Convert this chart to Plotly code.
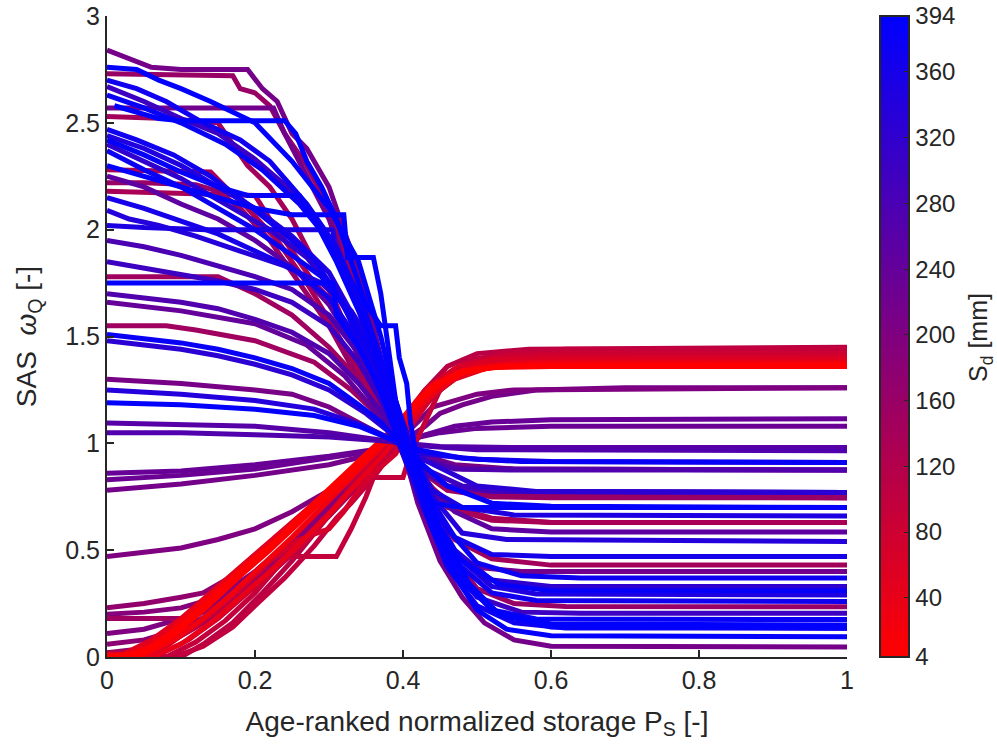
import plotly.graph_objects as go
from plotly.colors import sample_colorscale

# S_d value [mm] of each curve
sd_mm = [
    # rising curves (low S_d)
    4, 15, 25, 40, 60, 80, 95, 110, 120, 10, 30, 70, 50, 100,
    170, 190, 200, 150, 180, 170, 200, 215, 230, 235,
    # nearly flat / falling curves
    260, 270, 210, 340, 390, 150, 380, 330, 240, 270, 300, 150, 390, 280,
    340, 350, 360, 135, 160, 250, 135, 375, 320, 385, 345, 370, 145, 220,
    394, 380, 300, 370, 160, 215, 390, 390,
]
n_rising = 24

# Breakpoints (P_S, omega_Q) of each curve, same order as sd_mm
curves = [
    [(0,0),(0.03,0),(0.05,0.02),(0.08,0.08),(0.12,0.2),(0.16,0.32),(0.2,0.45),(0.24,0.58),(0.28,0.72),(0.32,0.85),(0.36,0.98),(0.39,1.08),(0.42,1.2),(0.45,1.28),(0.48,1.33),(0.52,1.355),(0.6,1.36),(1,1.36)],
    [(0,0),(0.04,0),(0.07,0.05),(0.1,0.13),(0.14,0.25),(0.18,0.38),(0.22,0.5),(0.26,0.63),(0.3,0.77),(0.34,0.9),(0.38,1.02),(0.41,1.15),(0.44,1.26),(0.48,1.33),(0.53,1.36),(0.62,1.37),(1,1.37)],
    [(0,0.01),(0.05,0.01),(0.09,0.08),(0.13,0.18),(0.17,0.3),(0.21,0.43),(0.25,0.56),(0.29,0.7),(0.33,0.84),(0.37,0.98),(0.4,1.1),(0.43,1.22),(0.46,1.3),(0.5,1.35),(0.58,1.37),(1,1.375)],
    [(0,0),(0.06,0),(0.1,0.06),(0.14,0.16),(0.18,0.28),(0.22,0.4),(0.26,0.53),(0.3,0.67),(0.34,0.82),(0.37,0.93),(0.4,1.06),(0.43,1.2),(0.46,1.3),(0.5,1.36),(0.58,1.38),(1,1.38)],
    [(0,0),(0.02,0),(0.05,0.04),(0.09,0.12),(0.13,0.24),(0.17,0.36),(0.21,0.48),(0.25,0.6),(0.29,0.73),(0.33,0.86),(0.37,1.0),(0.4,1.12),(0.43,1.25),(0.47,1.35),(0.52,1.39),(0.6,1.4),(1,1.4)],
    [(0,0),(0.07,0.01),(0.11,0.08),(0.15,0.18),(0.19,0.3),(0.23,0.42),(0.27,0.55),(0.31,0.7),(0.35,0.87),(0.38,1.0),(0.41,1.15),(0.44,1.28),(0.48,1.37),(0.54,1.41),(0.62,1.42),(1,1.42)],
    [(0,0),(0.08,0),(0.12,0.07),(0.16,0.17),(0.2,0.3),(0.23,0.42),(0.245,0.47),(0.31,0.47),(0.33,0.6),(0.35,0.75),(0.36,0.84),(0.4,0.84),(0.41,0.95),(0.43,1.1),(0.45,1.25),(0.48,1.36),(0.53,1.42),(0.62,1.44),(1,1.44)],
    [(0,0),(0.1,0),(0.13,0.06),(0.17,0.16),(0.21,0.3),(0.25,0.45),(0.29,0.62),(0.33,0.8),(0.37,0.97),(0.4,1.1),(0.43,1.25),(0.46,1.36),(0.5,1.42),(0.57,1.44),(1,1.45)],
    [(0,0.02),(0.04,0.02),(0.08,0.06),(0.12,0.14),(0.16,0.25),(0.2,0.38),(0.24,0.52),(0.28,0.66),(0.32,0.8),(0.36,0.93),(0.39,1.03),(0.42,1.16),(0.45,1.3),(0.49,1.38),(0.55,1.42),(1,1.43)],
    [(0,0),(0.03,0.01),(0.06,0.05),(0.1,0.15),(0.14,0.27),(0.18,0.4),(0.22,0.52),(0.26,0.64),(0.3,0.76),(0.34,0.89),(0.38,1.03),(0.41,1.16),(0.44,1.27),(0.48,1.34),(0.54,1.36),(1,1.365)],
    [(0,0),(0.05,0.03),(0.08,0.1),(0.11,0.2),(0.15,0.32),(0.19,0.44),(0.23,0.55),(0.27,0.67),(0.31,0.79),(0.35,0.92),(0.38,1.02),(0.41,1.13),(0.44,1.24),(0.48,1.33),(0.54,1.37),(1,1.37)],
    [(0,0),(0.06,0),(0.1,0.1),(0.14,0.2),(0.18,0.32),(0.22,0.45),(0.26,0.55),(0.3,0.6),(0.32,0.68),(0.34,0.78),(0.36,0.86),(0.39,0.95),(0.41,1.08),(0.44,1.22),(0.47,1.32),(0.52,1.38),(0.6,1.39),(1,1.39)],
    [(0,0),(0.02,0.01),(0.06,0.08),(0.1,0.18),(0.14,0.3),(0.18,0.42),(0.22,0.54),(0.26,0.66),(0.3,0.78),(0.34,0.9),(0.37,0.98),(0.4,1.08),(0.43,1.2),(0.47,1.3),(0.52,1.36),(0.6,1.38),(1,1.385)],
    [(0,0),(0.09,0),(0.13,0.05),(0.17,0.14),(0.2,0.24),(0.24,0.37),(0.28,0.52),(0.31,0.65),(0.33,0.72),(0.36,0.84),(0.39,0.98),(0.42,1.15),(0.45,1.3),(0.49,1.39),(0.56,1.43),(1,1.44)],
    [(0,0.23),(0.05,0.25),(0.1,0.28),(0.13,0.3),(0.17,0.38),(0.2,0.46),(0.24,0.58),(0.28,0.7),(0.33,0.85),(0.37,0.97),(0.41,1.1),(0.44,1.22),(0.48,1.33),(0.53,1.4),(0.6,1.43),(1,1.44)],
    [(0,0.2),(0.05,0.21),(0.1,0.23),(0.15,0.28),(0.2,0.4),(0.25,0.55),(0.3,0.72),(0.35,0.9),(0.39,1.03),(0.43,1.2),(0.47,1.33),(0.52,1.4),(0.6,1.42),(1,1.43)],
    [(0,0.11),(0.05,0.13),(0.1,0.18),(0.15,0.26),(0.2,0.38),(0.25,0.53),(0.3,0.7),(0.35,0.88),(0.39,1.02),(0.43,1.2),(0.47,1.32),(0.52,1.39),(0.6,1.41),(1,1.42)],
    [(0,0.18),(0.11,0.18),(0.15,0.24),(0.2,0.36),(0.25,0.5),(0.3,0.66),(0.35,0.84),(0.39,1.0),(0.43,1.18),(0.47,1.32),(0.52,1.4),(0.6,1.43),(1,1.44)],
    [(0,0.06),(0.05,0.08),(0.1,0.13),(0.15,0.22),(0.2,0.34),(0.25,0.5),(0.3,0.68),(0.35,0.86),(0.39,1.0),(0.43,1.2),(0.47,1.33),(0.52,1.4),(1,1.42)],
    [(0,0.02),(0.05,0.04),(0.1,0.1),(0.15,0.2),(0.2,0.33),(0.25,0.48),(0.3,0.66),(0.35,0.85),(0.39,1.0),(0.42,1.15),(0.46,1.3),(0.5,1.38),(0.58,1.42),(1,1.43)],
    [(0,0.47),(0.05,0.49),(0.1,0.51),(0.15,0.55),(0.2,0.6),(0.25,0.68),(0.3,0.78),(0.35,0.9),(0.39,1.0),(0.42,1.1),(0.44,1.17),(0.47,1.2),(0.5,1.23),(0.55,1.25),(1,1.26)],
    [(0,0.78),(0.1,0.81),(0.2,0.85),(0.3,0.9),(0.36,0.95),(0.4,1.01),(0.43,1.08),(0.45,1.14),(0.48,1.18),(0.52,1.22),(0.58,1.25),(0.7,1.26),(1,1.26)],
    [(0,0.83),(0.1,0.85),(0.2,0.88),(0.3,0.93),(0.37,0.97),(0.41,1.02),(0.45,1.05),(0.5,1.07),(0.6,1.08),(1,1.08)],
    [(0,0.86),(0.1,0.87),(0.2,0.9),(0.3,0.94),(0.36,0.97),(0.4,1.0),(0.43,1.04),(0.47,1.08),(0.52,1.1),(0.6,1.11),(1,1.115)],
    [(0,1.095),(0.1,1.09),(0.2,1.08),(0.3,1.05),(0.36,1.02),(0.4,1.0),(0.45,0.985),(0.55,0.98),(1,0.98)],
    [(0,1.05),(0.1,1.05),(0.2,1.04),(0.3,1.03),(0.38,1.01),(0.42,0.99),(0.5,0.97),(1,0.965)],
    [(0,1.3),(0.1,1.28),(0.2,1.25),(0.25,1.23),(0.3,1.17),(0.35,1.08),(0.39,1.01),(0.42,0.95),(0.47,0.9),(0.55,0.88),(1,0.875)],
    [(0,1.25),(0.1,1.23),(0.2,1.2),(0.28,1.16),(0.34,1.09),(0.39,1.01),(0.43,0.95),(0.5,0.925),(0.6,0.915),(1,0.91)],
    [(0,1.19),(0.1,1.18),(0.2,1.16),(0.28,1.13),(0.34,1.08),(0.39,1.01),(0.42,0.92),(0.46,0.8),(0.52,0.72),(0.6,0.705),(1,0.7)],
    [(0,1.55),(0.08,1.55),(0.12,1.53),(0.2,1.48),(0.28,1.38),(0.33,1.25),(0.37,1.12),(0.39,1.03),(0.42,0.9),(0.46,0.8),(0.52,0.76),(1,0.745)],
    [(0,1.51),(0.05,1.49),(0.1,1.47),(0.15,1.44),(0.2,1.4),(0.25,1.35),(0.3,1.28),(0.34,1.18),(0.37,1.1),(0.39,1.02),(0.42,0.97),(0.48,0.93),(0.56,0.915),(1,0.91)],
    [(0,1.48),(0.05,1.46),(0.1,1.44),(0.15,1.41),(0.2,1.37),(0.25,1.32),(0.3,1.25),(0.35,1.14),(0.39,1.03),(0.43,0.92),(0.5,0.8),(0.58,0.775),(1,0.77)],
    [(0,1.66),(0.1,1.62),(0.2,1.56),(0.27,1.46),(0.32,1.32),(0.36,1.16),(0.39,1.03),(0.42,0.94),(0.48,0.88),(1,0.875)],
    [(0,1.7),(0.05,1.68),(0.1,1.66),(0.15,1.63),(0.2,1.58),(0.25,1.52),(0.3,1.42),(0.34,1.28),(0.37,1.15),(0.39,1.03),(0.42,0.93),(0.47,0.88),(0.55,0.875),(1,0.875)],
    [(0,1.85),(0.05,1.82),(0.1,1.79),(0.15,1.76),(0.2,1.72),(0.25,1.66),(0.3,1.55),(0.34,1.38),(0.37,1.2),(0.4,1.0),(0.43,0.88),(0.48,0.8),(0.55,0.775),(1,0.77)],
    [(0,1.78),(0.1,1.78),(0.15,1.78),(0.2,1.7),(0.25,1.6),(0.3,1.45),(0.34,1.3),(0.37,1.15),(0.39,1.03),(0.42,0.88),(0.46,0.78),(0.52,0.75),(1,0.745)],
    [(0,1.75),(0.1,1.75),(0.17,1.75),(0.305,1.75),(0.31,1.6),(0.34,1.45),(0.37,1.25),(0.39,1.05),(0.41,0.88),(0.44,0.72),(0.48,0.7),(1,0.7)],
    [(0,1.95),(0.05,1.92),(0.1,1.88),(0.15,1.83),(0.2,1.78),(0.25,1.72),(0.3,1.6),(0.34,1.42),(0.37,1.22),(0.39,1.05),(0.42,0.88),(0.46,0.8),(0.52,0.775),(1,0.77)],
    [(0,2.09),(0.03,2.05),(0.07,2.02),(0.12,1.97),(0.18,1.9),(0.24,1.83),(0.29,1.75),(0.33,1.62),(0.36,1.45),(0.39,1.2),(0.41,1.0),(0.44,0.75),(0.48,0.58),(0.54,0.55),(1,0.54)],
    [(0,2.02),(0.05,2.01),(0.135,2.0),(0.305,2.0),(0.31,1.88),(0.33,1.72),(0.35,1.55),(0.37,1.35),(0.39,1.12),(0.41,0.95),(0.44,0.78),(0.48,0.7),(0.55,0.665),(1,0.66)],
    [(0,2.15),(0.05,2.1),(0.1,2.04),(0.15,1.98),(0.2,1.9),(0.25,1.82),(0.3,1.68),(0.34,1.48),(0.37,1.28),(0.4,1.0),(0.43,0.78),(0.47,0.56),(0.52,0.48),(0.6,0.47),(1,0.47)],
    [(0,2.18),(0.1,2.17),(0.2,2.16),(0.22,2.05),(0.25,1.9),(0.28,1.75),(0.3,1.68),(0.33,1.5),(0.36,1.3),(0.39,1.08),(0.42,0.88),(0.46,0.7),(0.52,0.64),(0.6,0.63),(1,0.63)],
    [(0,2.22),(0.05,2.22),(0.12,2.21),(0.15,2.18),(0.18,2.1),(0.22,1.95),(0.26,1.75),(0.3,1.55),(0.34,1.3),(0.38,1.07),(0.42,0.9),(0.46,0.8),(0.52,0.75),(0.6,0.745),(1,0.745)],
    [(0,2.25),(0.05,2.2),(0.1,2.12),(0.15,2.05),(0.2,1.95),(0.26,1.8),(0.3,1.65),(0.34,1.42),(0.37,1.2),(0.4,0.98),(0.43,0.8),(0.47,0.68),(0.52,0.6),(0.6,0.585),(1,0.585)],
    [(0,2.28),(0.1,2.27),(0.14,2.27),(0.16,2.2),(0.19,2.1),(0.23,1.95),(0.27,1.75),(0.31,1.52),(0.35,1.28),(0.39,1.02),(0.43,0.82),(0.47,0.7),(0.52,0.65),(0.6,0.63),(1,0.63)],
    [(0,2.37),(0.05,2.28),(0.1,2.2),(0.15,2.1),(0.2,2.0),(0.25,1.88),(0.29,1.78),(0.33,1.6),(0.36,1.4),(0.39,1.12),(0.42,0.85),(0.46,0.6),(0.5,0.44),(0.56,0.38),(0.64,0.37),(1,0.37)],
    [(0,2.4),(0.05,2.32),(0.1,2.24),(0.16,2.12),(0.22,2.0),(0.27,1.87),(0.31,1.7),(0.35,1.45),(0.38,1.2),(0.4,1.0),(0.43,0.75),(0.47,0.5),(0.52,0.36),(0.6,0.33),(1,0.33)],
    [(0,2.42),(0.05,2.35),(0.1,2.27),(0.15,2.2),(0.19,2.16),(0.26,2.16),(0.28,2.05),(0.31,1.85),(0.34,1.62),(0.37,1.35),(0.39,1.1),(0.41,0.9),(0.44,0.65),(0.48,0.45),(0.53,0.34),(0.6,0.31),(1,0.31)],
    [(0,2.44),(0.05,2.38),(0.1,2.3),(0.15,2.2),(0.2,2.1),(0.25,1.97),(0.3,1.8),(0.34,1.55),(0.37,1.28),(0.4,1.0),(0.43,0.72),(0.47,0.48),(0.52,0.33),(0.58,0.295),(1,0.29)],
    [(0,2.47),(0.04,2.42),(0.09,2.35),(0.14,2.25),(0.19,2.12),(0.24,1.98),(0.28,1.86),(0.32,1.65),(0.35,1.4),(0.38,1.15),(0.4,0.95),(0.43,0.7),(0.47,0.45),(0.52,0.3),(0.58,0.265),(1,0.26)],
    [(0,2.53),(0.08,2.52),(0.15,2.5),(0.17,2.4),(0.19,2.3),(0.22,2.2),(0.25,2.05),(0.28,1.85),(0.31,1.65),(0.34,1.4),(0.37,1.15),(0.4,0.95),(0.43,0.75),(0.47,0.55),(0.52,0.46),(0.6,0.43),(1,0.43)],
    [(0,2.57),(0.225,2.57),(0.24,2.45),(0.27,2.25),(0.3,2.05),(0.33,1.75),(0.36,1.4),(0.39,1.05),(0.42,0.75),(0.46,0.5),(0.5,0.42),(0.56,0.4),(1,0.4)],
    [(0.01,2.58),(0.04,2.55),(0.07,2.52),(0.1,2.51),(0.24,2.51),(0.255,2.45),(0.27,2.32),(0.29,2.2),(0.31,2.05),(0.33,1.85),(0.35,1.65),(0.37,1.55),(0.39,1.55),(0.395,1.4),(0.405,1.28),(0.41,1.1),(0.42,0.9),(0.45,0.6),(0.49,0.34),(0.53,0.2),(0.6,0.155),(1,0.15)],
    [(0,2.63),(0.05,2.57),(0.1,2.5),(0.16,2.4),(0.21,2.28),(0.26,2.12),(0.3,1.95),(0.34,1.7),(0.37,1.4),(0.39,1.15),(0.41,0.95),(0.44,0.62),(0.48,0.36),(0.52,0.22),(0.58,0.178),(1,0.175)],
    [(0,2.67),(0.05,2.6),(0.1,2.52),(0.15,2.45),(0.2,2.33),(0.25,2.18),(0.3,1.95),(0.34,1.65),(0.37,1.35),(0.395,1.02),(0.42,0.75),(0.46,0.45),(0.5,0.28),(0.56,0.21),(0.64,0.205),(1,0.205)],
    [(0,2.7),(0.04,2.66),(0.08,2.6),(0.13,2.5),(0.18,2.42),(0.22,2.32),(0.27,2.12),(0.31,1.92),(0.35,1.6),(0.38,1.25),(0.4,1.0),(0.43,0.68),(0.46,0.42),(0.5,0.24),(0.55,0.16),(0.62,0.136),(1,0.135)],
    [(0,2.73),(0.17,2.72),(0.18,2.66),(0.2,2.64),(0.22,2.58),(0.24,2.45),(0.27,2.3),(0.3,2.1),(0.33,1.8),(0.36,1.45),(0.39,1.08),(0.42,0.8),(0.46,0.5),(0.5,0.32),(0.55,0.25),(0.62,0.236),(1,0.235)],
    [(0,2.84),(0.03,2.8),(0.06,2.76),(0.1,2.75),(0.19,2.75),(0.21,2.66),(0.23,2.6),(0.25,2.45),(0.27,2.38),(0.3,2.2),(0.33,1.9),(0.36,1.55),(0.39,1.1),(0.42,0.72),(0.45,0.45),(0.48,0.28),(0.51,0.16),(0.55,0.08),(0.6,0.05),(1,0.047)],
    [(0,2.3),(0.05,2.25),(0.1,2.2),(0.15,2.15),(0.2,2.1),(0.25,2.07),(0.32,2.07),(0.325,1.87),(0.36,1.87),(0.37,1.7),(0.38,1.45),(0.39,1.2),(0.41,0.95),(0.44,0.62),(0.48,0.35),(0.53,0.2),(0.6,0.14),(1,0.135)],
    [(0,2.76),(0.04,2.75),(0.07,2.7),(0.1,2.66),(0.14,2.6),(0.2,2.5),(0.25,2.32),(0.3,2.1),(0.34,1.85),(0.37,1.5),(0.39,1.2),(0.41,0.95),(0.44,0.6),(0.47,0.38),(0.5,0.22),(0.54,0.13),(0.6,0.1),(1,0.095)],
]

sd_min, sd_max = 4, 394
cb_ticks = [4, 40, 80, 120, 160, 200, 240, 280, 320, 360, 394]
red_blue = [[0, "rgb(255,0,0)"], [1, "rgb(0,0,255)"]]

FONT = "Liberation Sans, Arial, sans-serif"
INK = "#262626"

fig = go.Figure()

# rising curves: purple first, reddest on top; then falling curves: bluest on top
rising = sorted(range(n_rising), key=lambda i: -sd_mm[i])
falling = sorted(range(n_rising, len(sd_mm)), key=lambda i: sd_mm[i])
for i in rising + falling:
    frac = (sd_mm[i] - sd_min) / (sd_max - sd_min)
    color = sample_colorscale(red_blue, [frac])[0]
    xs = [p[0] for p in curves[i]]
    ys = [p[1] for p in curves[i]]
    fig.add_trace(go.Scatter(
        x=xs, y=ys, mode="lines",
        line=dict(color=color, width=5),
        hoverinfo="skip", showlegend=False,
    ))

# colour scale for S_d
fig.add_trace(go.Scatter(
    x=[-1], y=[-1], mode="markers", showlegend=False, hoverinfo="skip",
    marker=dict(
        color=[sd_min], cmin=sd_min, cmax=sd_max, colorscale=red_blue,
        showscale=True,
        colorbar=dict(
            x=1.0446, xanchor="left", y=0.5, yanchor="middle",
            len=1, lenmode="fraction", thickness=29, ypad=0, xpad=0,
            outlinewidth=2, outlinecolor=INK,
            tickvals=cb_ticks, ticks="inside", ticklen=6, tickcolor=INK,
            tickfont=dict(family=FONT, size=24, color=INK),
        ),
    ),
))

fig.add_annotation(
    text="S<sub>d</sub> [mm]", textangle=-90, showarrow=False,
    xref="paper", yref="paper", x=1.18, y=0.498, xanchor="center", yanchor="middle",
    font=dict(family=FONT, size=25, color=INK),
)

axis_common = dict(
    showgrid=False, zeroline=False, showline=True, linecolor=INK, linewidth=2,
    ticks="inside", ticklen=7, tickwidth=2, tickcolor=INK,
    tickfont=dict(family=FONT, size=25, color=INK),
    mirror=False, automargin=False,
)

fig.update_layout(
    width=997, height=748,
    margin=dict(l=107, r=150, t=16, b=91),
    paper_bgcolor="white", plot_bgcolor="white",
    xaxis=dict(
        range=[0, 1], tickvals=[0, 0.2, 0.4, 0.6, 0.8, 1],
        ticktext=["0", "0.2", "0.4", "0.6", "0.8", "1"],
        title=dict(text="Age-ranked normalized storage P<sub>S</sub> [-]",
                   font=dict(family=FONT, size=28, color=INK), standoff=18),
        **axis_common,
    ),
    yaxis=dict(
        range=[0, 3], tickvals=[0, 0.5, 1, 1.5, 2, 2.5, 3],
        ticktext=["0", "0.5", "1", "1.5", "2", "2.5", "3"],
        title=dict(text="SAS  <i>ω</i><sub>Q</sub> [-]",
                   font=dict(family=FONT, size=28, color=INK), standoff=20),
        **axis_common,
    ),
)

fig.write_html("out.html")
